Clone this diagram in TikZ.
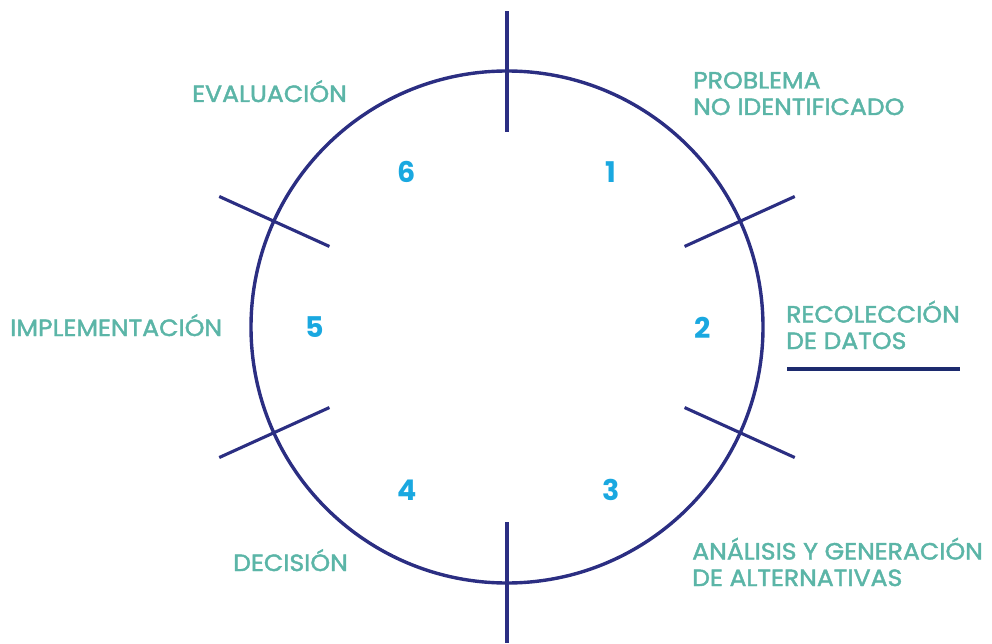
\documentclass[tikz,border=0pt]{standalone}
\usepackage{fontspec}
\setmainfont{Poppins}
\newfontfamily\lblfont[FakeStretch=1.07, FakeBold=1.8]{Poppins}
\usetikzlibrary{calc}
\definecolor{navy}{HTML}{2B2E82}
\definecolor{darknavy}{HTML}{1C2A6E}
\definecolor{tealtxt}{HTML}{5BB5A7}
\definecolor{cyannum}{HTML}{1AA8E0}
\tikzset{
  ring/.style={draw=navy, line width=3.4pt},
  tick/.style={draw=navy, line width=3.1pt},
  lbl/.style={text=tealtxt, font=\lblfont\fontsize{23.5}{26.5}\selectfont, inner sep=0pt, align=left, anchor=base west},
  num/.style={text=cyannum, font=\fontsize{28.5}{30}\selectfont\bfseries, inner sep=0pt, anchor=center},
}
\begin{document}
\begin{tikzpicture}[x=1pt,y=-1pt]
\useasboundingbox (0,0) rectangle (992,644);
\coordinate (c) at (507,327);
\draw[ring] (c) circle (256);
\foreach \a/\n in {-90/t, -24.4/ur, 24.4/lr, 90/b, 155.6/ll, 204.4/ul}{
  \coordinate (\n i) at ($(c)+(\a:195)$);
  \coordinate (\n o) at ($(c)+(\a:316)$);
  \draw[tick] (\n i) -- (\n o);
}
% numbers
\node[num] (n1) at (611,172) {1};
\node[num] (n2) at (703,327.5) {2};
\node[num] (n3) at (611,490) {3};
\node[num] (n4) at (407,490) {4};
\node[num] (n5) at (315,327.5) {5};
\node[num] (n6) at (407,172) {6};
% labels (base = baseline of last line)
\node[lbl] (l6) at (192,102) {EVALUACIÓN};
\node[lbl] (l1) at (693,115) {PROBLEMA\\NO IDENTIFICADO};
\node[lbl] (l2) at (786,349) {RECOLECCIÓN\\DE DATOS};
\node[lbl] (l5) at (10,336) {IMPLEMENTACIÓN};
\node[lbl] (l4) at (233,571) {DECISIÓN};
\node[lbl] (l3) at (692,586) {ANÁLISIS Y GENERACIÓN\\DE ALTERNATIVAS};
\coordinate (hl) at (787,369);
\coordinate (hr) at (960,369);
\draw[draw=darknavy, line width=3.4pt] (hl) -- (hr);
\end{tikzpicture}
\end{document}
